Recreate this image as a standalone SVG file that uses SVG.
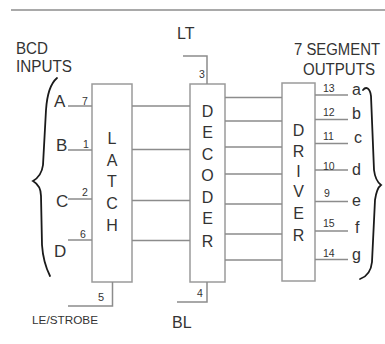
<svg xmlns="http://www.w3.org/2000/svg" width="385" height="344" viewBox="0 0 385 344">
<style>
.bg{fill:#ffffff}
.box{fill:#ffffff;stroke:#9a9a9a;stroke-width:1.5}
.ln{fill:none;stroke:#8c8c8c;stroke-width:1.5}
.br{fill:none;stroke:#1a1a1a;stroke-width:1.8;stroke-linecap:round}
text{font-family:"Liberation Sans",Arial,sans-serif;fill:#333333}
.big{font-size:16px}
.mid{font-size:16px}
.inp{font-size:17px}
.let{font-size:16px;text-anchor:middle}
.num{font-size:10.5px}
.sm{font-size:11px}
</style>
<rect class="bg" x="0" y="0" width="385" height="344"/>
<line class="ln" x1="11" y1="10" x2="385" y2="10"/>
<g id="title-inputs">
<text class="big" x="16" y="54" textLength="32" lengthAdjust="spacingAndGlyphs">BCD</text>
<text class="big" x="16" y="72" textLength="56" lengthAdjust="spacingAndGlyphs">INPUTS</text>
</g>
<g id="title-outputs">
<text class="big" x="294" y="55" textLength="86" lengthAdjust="spacingAndGlyphs">7 SEGMENT</text>
<text class="big" x="303" y="75" textLength="72" lengthAdjust="spacingAndGlyphs">OUTPUTS</text>
</g>
<g id="latch">
<rect class="box" x="92" y="84" width="40" height="198"/>
<text class="let" x="112" y="144">L</text>
<text class="let" x="112" y="165.5">A</text>
<text class="let" x="112" y="187">T</text>
<text class="let" x="112" y="209">C</text>
<text class="let" x="112" y="231">H</text>
</g>
<g id="decoder">
<rect class="box" x="190" y="84" width="35" height="198"/>
<text class="let" x="207.5" y="116.5">D</text>
<text class="let" x="207.5" y="138">E</text>
<text class="let" x="207.5" y="159.5">C</text>
<text class="let" x="207.5" y="181">O</text>
<text class="let" x="207.5" y="202.5">D</text>
<text class="let" x="207.5" y="224">E</text>
<text class="let" x="207.5" y="246.5">R</text>
</g>
<g id="driver">
<rect class="box" x="282" y="83" width="33" height="198"/>
<text class="let" x="298.5" y="136">D</text>
<text class="let" x="298.5" y="157">R</text>
<text class="let" x="298.5" y="177">I</text>
<text class="let" x="298.5" y="197">V</text>
<text class="let" x="298.5" y="219">E</text>
<text class="let" x="298.5" y="240.5">R</text>
</g>
<g id="connectors">
<path class="ln" d="M68 106H92M68 150H92M68 199H92M68 240H92"/>
<path class="ln" d="M132 106H190M132 149.5H190M132 200.5H190M132 240.5H190"/>
<path class="ln" d="M225 97.5H282M225 121H282M225 147H282M225 174H282M225 204H282M225 234H282M225 260H282"/>
<path class="ln" d="M315 95H348M315 119.5H348M315 143.5H348M315 170H348M315 201.5H348M315 231H348M315 259.5H348"/>
<path class="ln" d="M183 56H207V84"/>
<path class="ln" d="M207 282V302H177"/>
<path class="ln" d="M112.5 282V306H68"/>
</g>
<g id="pin-labels">
<text class="num" x="82" y="105">7</text>
<text class="num" x="83" y="148">1</text>
<text class="num" x="82" y="196">2</text>
<text class="num" x="80" y="238">6</text>
<text class="num" x="199" y="78">3</text>
<text class="num" x="197" y="297">4</text>
<text class="sm" x="98" y="301">5</text>
<text class="num" x="323" y="92">13</text>
<text class="num" x="323" y="116">12</text>
<text class="num" x="323" y="140">11</text>
<text class="num" x="323" y="170">10</text>
<text class="num" x="324" y="197">9</text>
<text class="num" x="323" y="227">15</text>
<text class="num" x="323" y="257">14</text>
</g>
<g id="input-letters">
<text class="inp" x="54" y="107">A</text>
<text class="inp" x="56" y="151">B</text>
<text class="inp" x="56" y="207">C</text>
<text class="inp" x="54" y="257">D</text>
</g>
<g id="output-letters">
<text class="mid" x="352" y="95">a</text>
<text class="mid" x="352" y="119">b</text>
<text class="mid" x="354" y="143">c</text>
<text class="mid" x="352" y="175">d</text>
<text class="mid" x="352" y="206">e</text>
<text class="mid" x="355" y="233">f</text>
<text class="mid" x="352" y="260">g</text>
</g>
<g id="control-labels">
<text class="big" x="177" y="39">LT</text>
<text class="big" x="172" y="328">BL</text>
<text class="sm" x="32" y="324" textLength="66" lengthAdjust="spacingAndGlyphs">LE/STROBE</text>
</g>
<g id="braces">
<path class="br" d="M57 78C50 84 47 95 46 110L43 165C42 173 38 178 33 181C38 184 41 188 41 196L42 245C43 260 46 268 50 276"/>
<path class="br" d="M363 90C366 86 370 88 371 96L374 170C375 178 377 182 381 185C377 188 376 193 375 200L372 262C371 272 366 277 360 279"/>
</g>
</svg>
